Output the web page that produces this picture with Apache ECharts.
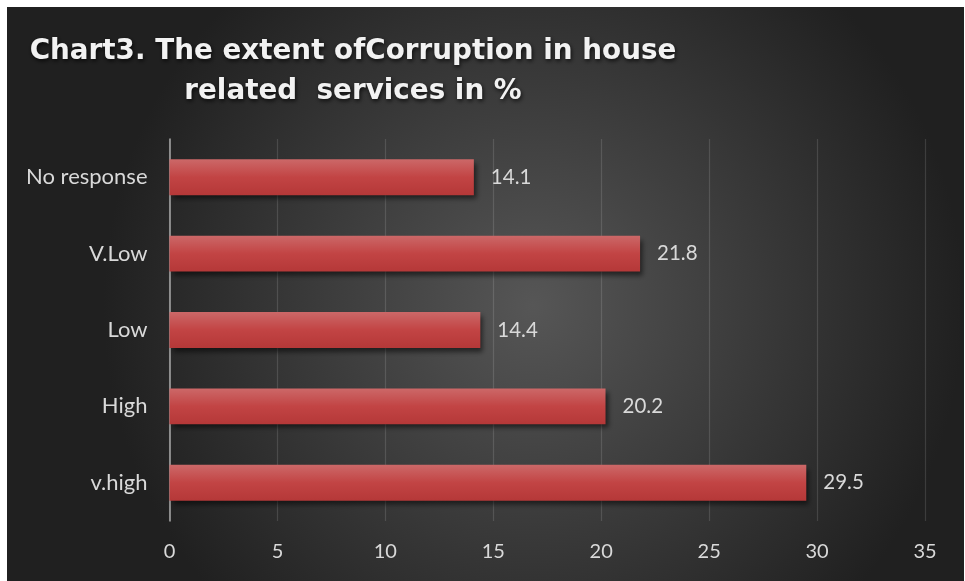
<!DOCTYPE html>
<html>
<head>
<meta charset="utf-8">
<script src="https://cdn.jsdelivr.net/npm/echarts@6/dist/echarts.min.js"></script>
<style>
  html, body { margin: 0; padding: 0; background: #ffffff; }
  #chart { position: absolute; left: 7px; top: 7px; width: 957px; height: 574px; }
</style>
</head>
<body>
<div id="chart"></div>
<script>
// Categories listed bottom-to-top (ECharts category y axis starts at the bottom)
const categories = ['v.high', 'High', 'Low', 'V.Low', 'No response'];
const values = [29.5, 20.2, 14.4, 21.8, 14.1];
const xTicks = { min: 0, max: 35, interval: 5 };
const titleText = 'Chart3. The extent ofCorruption in house\nrelated  services in %';

const chart = echarts.init(document.getElementById('chart'));

chart.setOption({
  backgroundColor: {
    type: 'radial', x: 0.55, y: 0.52, r: 0.75,
    colorStops: [
      { offset: 0, color: '#565656' },
      { offset: 1, color: '#202020' }
    ]
  },
  title: {
    text: titleText,
    left: 341,
    top: 20,
    textAlign: 'center',
    textStyle: {
      fontFamily: 'DejaVu Sans',
      fontWeight: 'bold',
      fontSize: 27.8,
      lineHeight: 40,
      color: '#f2f2f2',
      textShadowColor: 'rgba(0,0,0,0.75)',
      textShadowBlur: 4,
      textShadowOffsetX: 1,
      textShadowOffsetY: 2
    }
  },
  grid: { left: 162.5, right: 39, top: 132, bottom: 60, containLabel: false },
  xAxis: {
    type: 'value',
    min: xTicks.min, max: xTicks.max, interval: xTicks.interval,
    axisLine: { show: false },
    axisTick: { show: false },
    axisLabel: { color: '#d9d9d9', fontSize: 20, fontFamily: 'Lato', margin: 21 },
    splitLine: { show: true, lineStyle: { color: 'rgba(255,255,255,0.13)', width: 1.2 } }
  },
  yAxis: {
    type: 'category',
    data: categories,
    axisLine: { show: true, lineStyle: { color: '#a8a8a8', width: 1.5 } },
    axisTick: { show: false },
    axisLabel: { color: '#d9d9d9', fontSize: 22, fontFamily: 'Lato', margin: 22 }
  },
  series: [{
    type: 'bar',
    data: values,
    barWidth: '47%',
    itemStyle: {
      color: {
        type: 'linear', x: 0, y: 0, x2: 0, y2: 1,
        colorStops: [
          { offset: 0, color: '#cc6868' },
          { offset: 0.5, color: '#c24444' },
          { offset: 1, color: '#b53838' }
        ]
      },
      shadowColor: 'rgba(0,0,0,0.55)',
      shadowBlur: 5,
      shadowOffsetX: 3,
      shadowOffsetY: 4
    },
    label: {
      show: true,
      position: 'right',
      distance: 17,
      color: '#d9d9d9',
      fontSize: 20.5,
      fontFamily: 'Lato'
    },
    animation: false
  }],
  animation: false
});
</script>
</body>
</html>
